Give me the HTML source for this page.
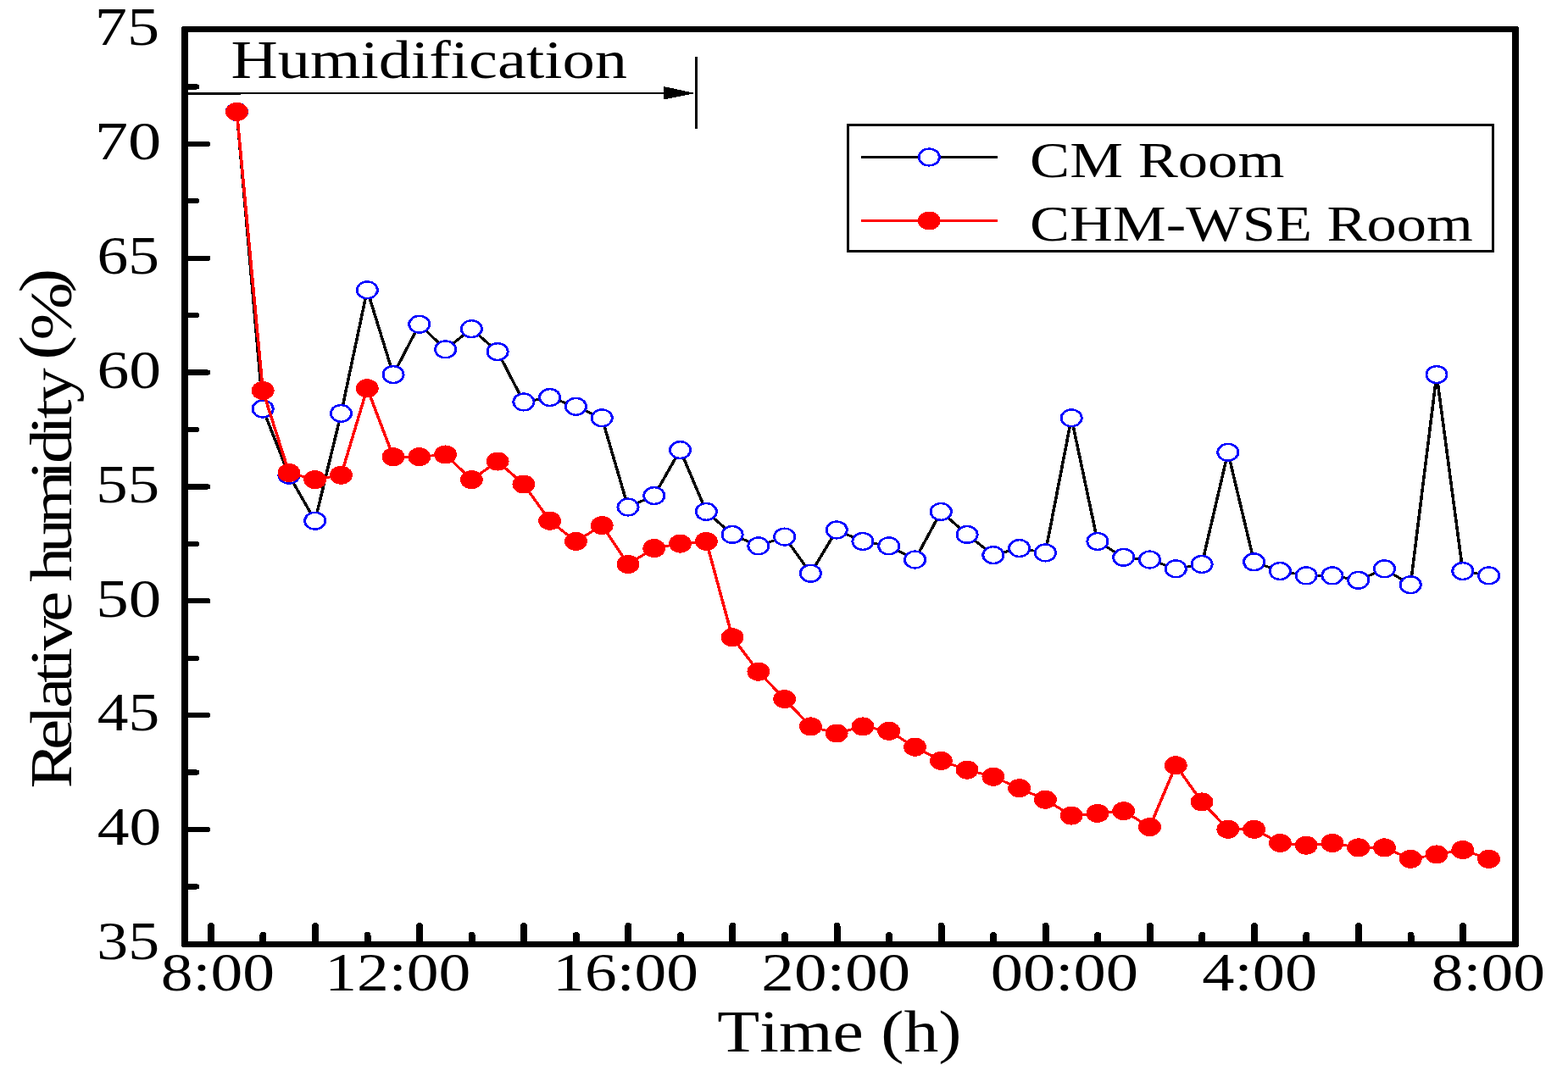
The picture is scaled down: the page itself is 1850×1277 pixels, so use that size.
<!DOCTYPE html>
<html lang="en"><head><meta charset="utf-8"><title>Relative humidity</title>
<style>html,body{margin:0;padding:0;background:#fff}body{width:1850px;height:1277px;overflow:hidden}svg{display:block}text{font-family:"Liberation Serif","DejaVu Serif",serif;fill:#000;font-kerning:none;font-variant-ligatures:none;white-space:pre}</style>
</head><body>
<svg width="1850" height="1277" viewBox="0 0 1850 1277">
<rect width="1850" height="1277" fill="#fff"/>
<g shape-rendering="crispEdges">
<path fill="#000" fill-rule="evenodd" d="M217,31 H1789 Q1792,31 1792,34 V1115 Q1792,1118 1789,1118 H217 Q214,1118 214,1115 V34 Q214,31 217,31 Z M222,38 V1111 H1784 V38 Z"/>
<g stroke="#000" stroke-width="6.2" stroke-linecap="round" fill="none">
<path d="M220,102.45 H232.10"/>
<path d="M220,169.88 H245.20"/>
<path d="M220,237.30 H232.10"/>
<path d="M220,304.73 H245.20"/>
<path d="M220,372.15 H232.10"/>
<path d="M220,439.58 H245.20"/>
<path d="M220,507.00 H232.10"/>
<path d="M220,574.43 H245.20"/>
<path d="M220,641.86 H232.10"/>
<path d="M220,709.28 H245.20"/>
<path d="M220,776.71 H232.10"/>
<path d="M220,844.13 H245.20"/>
<path d="M220,911.56 H232.10"/>
<path d="M220,978.98 H245.20"/>
<path d="M220,1046.40 H232.10"/>
</g>
<g stroke="#000" stroke-width="8" stroke-linecap="round" fill="none">
<path d="M248.90,1113 V1093.00"/>
<path d="M310.45,1113 V1104.00"/>
<path d="M372.00,1113 V1093.00"/>
<path d="M433.55,1113 V1104.00"/>
<path d="M495.10,1113 V1093.00"/>
<path d="M556.65,1113 V1104.00"/>
<path d="M618.20,1113 V1093.00"/>
<path d="M679.75,1113 V1104.00"/>
<path d="M741.30,1113 V1093.00"/>
<path d="M802.85,1113 V1104.00"/>
<path d="M864.40,1113 V1093.00"/>
<path d="M925.95,1113 V1104.00"/>
<path d="M987.50,1113 V1093.00"/>
<path d="M1049.05,1113 V1104.00"/>
<path d="M1110.60,1113 V1093.00"/>
<path d="M1172.15,1113 V1104.00"/>
<path d="M1233.70,1113 V1093.00"/>
<path d="M1295.25,1113 V1104.00"/>
<path d="M1356.80,1113 V1093.00"/>
<path d="M1418.35,1113 V1104.00"/>
<path d="M1479.90,1113 V1093.00"/>
<path d="M1541.45,1113 V1104.00"/>
<path d="M1603.00,1113 V1093.00"/>
<path d="M1664.55,1113 V1104.00"/>
<path d="M1726.10,1113 V1093.00"/>
</g>
<rect x="222" y="108.6" width="565" height="2.6" fill="#000"/>
<rect x="222" y="109.4" width="62" height="2.6" fill="#000"/>
<path d="M783,102 L820,110 L783,117.6 Z" fill="#000"/>
<rect x="820" y="67.4" width="3" height="84.2" fill="#000"/>
<g transform="scale(1.22,1)">
<polyline points="229.00,131.92 254.22,482.53 279.45,560.75 304.67,614.69 329.90,487.93 355.12,342.29 380.35,442.08 405.57,382.74 430.80,412.41 456.02,388.14 481.25,415.11 506.48,474.44 531.70,469.05 556.93,479.83 582.15,493.32 607.38,598.50 632.60,585.02 657.83,531.08 683.05,603.90 708.28,630.87 733.50,644.35 758.73,633.56 783.95,676.72 809.18,625.47 834.41,638.96 859.63,644.35 884.86,660.53 910.08,603.90 935.31,630.87 960.53,655.14 985.76,647.05 1010.98,652.44 1036.21,493.32 1061.43,638.96 1086.66,657.84 1111.89,660.53 1137.11,671.32 1162.34,665.93 1187.56,533.77 1212.79,663.23 1238.01,674.02 1263.24,679.41 1288.46,679.41 1313.69,684.81 1338.91,671.32 1364.14,690.20 1389.36,442.08 1414.59,674.02 1439.82,679.41" fill="none" stroke="#000" stroke-width="2.9" stroke-linejoin="round"/>
<g fill="#fff" stroke="#00f" stroke-width="2.4">
<circle cx="229.00" cy="131.92" r="9.9"/>
<circle cx="254.22" cy="482.53" r="9.9"/>
<circle cx="279.45" cy="560.75" r="9.9"/>
<circle cx="304.67" cy="614.69" r="9.9"/>
<circle cx="329.90" cy="487.93" r="9.9"/>
<circle cx="355.12" cy="342.29" r="9.9"/>
<circle cx="380.35" cy="442.08" r="9.9"/>
<circle cx="405.57" cy="382.74" r="9.9"/>
<circle cx="430.80" cy="412.41" r="9.9"/>
<circle cx="456.02" cy="388.14" r="9.9"/>
<circle cx="481.25" cy="415.11" r="9.9"/>
<circle cx="506.48" cy="474.44" r="9.9"/>
<circle cx="531.70" cy="469.05" r="9.9"/>
<circle cx="556.93" cy="479.83" r="9.9"/>
<circle cx="582.15" cy="493.32" r="9.9"/>
<circle cx="607.38" cy="598.50" r="9.9"/>
<circle cx="632.60" cy="585.02" r="9.9"/>
<circle cx="657.83" cy="531.08" r="9.9"/>
<circle cx="683.05" cy="603.90" r="9.9"/>
<circle cx="708.28" cy="630.87" r="9.9"/>
<circle cx="733.50" cy="644.35" r="9.9"/>
<circle cx="758.73" cy="633.56" r="9.9"/>
<circle cx="783.95" cy="676.72" r="9.9"/>
<circle cx="809.18" cy="625.47" r="9.9"/>
<circle cx="834.41" cy="638.96" r="9.9"/>
<circle cx="859.63" cy="644.35" r="9.9"/>
<circle cx="884.86" cy="660.53" r="9.9"/>
<circle cx="910.08" cy="603.90" r="9.9"/>
<circle cx="935.31" cy="630.87" r="9.9"/>
<circle cx="960.53" cy="655.14" r="9.9"/>
<circle cx="985.76" cy="647.05" r="9.9"/>
<circle cx="1010.98" cy="652.44" r="9.9"/>
<circle cx="1036.21" cy="493.32" r="9.9"/>
<circle cx="1061.43" cy="638.96" r="9.9"/>
<circle cx="1086.66" cy="657.84" r="9.9"/>
<circle cx="1111.89" cy="660.53" r="9.9"/>
<circle cx="1137.11" cy="671.32" r="9.9"/>
<circle cx="1162.34" cy="665.93" r="9.9"/>
<circle cx="1187.56" cy="533.77" r="9.9"/>
<circle cx="1212.79" cy="663.23" r="9.9"/>
<circle cx="1238.01" cy="674.02" r="9.9"/>
<circle cx="1263.24" cy="679.41" r="9.9"/>
<circle cx="1288.46" cy="679.41" r="9.9"/>
<circle cx="1313.69" cy="684.81" r="9.9"/>
<circle cx="1338.91" cy="671.32" r="9.9"/>
<circle cx="1364.14" cy="690.20" r="9.9"/>
<circle cx="1389.36" cy="442.08" r="9.9"/>
<circle cx="1414.59" cy="674.02" r="9.9"/>
<circle cx="1439.82" cy="679.41" r="9.9"/>
</g>
<polyline points="229.00,131.92 254.22,460.96 279.45,558.05 304.67,566.14 329.90,560.75 355.12,458.26 380.35,539.17 405.57,539.17 430.80,536.47 456.02,566.14 481.25,544.56 506.48,571.53 531.70,614.69 556.93,638.96 582.15,620.08 607.38,665.93 632.60,647.05 657.83,641.65 683.05,638.96 708.28,752.23 733.50,792.69 758.73,825.05 783.95,857.41 809.18,865.51 834.41,857.41 859.63,862.81 884.86,881.69 910.08,897.87 935.31,908.66 960.53,916.75 985.76,930.23 1010.98,943.72 1036.21,962.60 1061.43,959.90 1086.66,957.20 1111.89,976.08 1137.11,903.26 1162.34,946.42 1187.56,978.78 1212.79,978.78 1238.01,994.96 1263.24,997.66 1288.46,994.96 1313.69,1000.36 1338.91,1000.36 1364.14,1013.84 1389.36,1008.45 1414.59,1003.05 1439.82,1013.84" fill="none" stroke="#f00" stroke-width="2.9" stroke-linejoin="round"/>
<g fill="#f00">
<circle cx="229.00" cy="131.92" r="11.0"/>
<circle cx="254.22" cy="460.96" r="11.0"/>
<circle cx="279.45" cy="558.05" r="11.0"/>
<circle cx="304.67" cy="566.14" r="11.0"/>
<circle cx="329.90" cy="560.75" r="11.0"/>
<circle cx="355.12" cy="458.26" r="11.0"/>
<circle cx="380.35" cy="539.17" r="11.0"/>
<circle cx="405.57" cy="539.17" r="11.0"/>
<circle cx="430.80" cy="536.47" r="11.0"/>
<circle cx="456.02" cy="566.14" r="11.0"/>
<circle cx="481.25" cy="544.56" r="11.0"/>
<circle cx="506.48" cy="571.53" r="11.0"/>
<circle cx="531.70" cy="614.69" r="11.0"/>
<circle cx="556.93" cy="638.96" r="11.0"/>
<circle cx="582.15" cy="620.08" r="11.0"/>
<circle cx="607.38" cy="665.93" r="11.0"/>
<circle cx="632.60" cy="647.05" r="11.0"/>
<circle cx="657.83" cy="641.65" r="11.0"/>
<circle cx="683.05" cy="638.96" r="11.0"/>
<circle cx="708.28" cy="752.23" r="11.0"/>
<circle cx="733.50" cy="792.69" r="11.0"/>
<circle cx="758.73" cy="825.05" r="11.0"/>
<circle cx="783.95" cy="857.41" r="11.0"/>
<circle cx="809.18" cy="865.51" r="11.0"/>
<circle cx="834.41" cy="857.41" r="11.0"/>
<circle cx="859.63" cy="862.81" r="11.0"/>
<circle cx="884.86" cy="881.69" r="11.0"/>
<circle cx="910.08" cy="897.87" r="11.0"/>
<circle cx="935.31" cy="908.66" r="11.0"/>
<circle cx="960.53" cy="916.75" r="11.0"/>
<circle cx="985.76" cy="930.23" r="11.0"/>
<circle cx="1010.98" cy="943.72" r="11.0"/>
<circle cx="1036.21" cy="962.60" r="11.0"/>
<circle cx="1061.43" cy="959.90" r="11.0"/>
<circle cx="1086.66" cy="957.20" r="11.0"/>
<circle cx="1111.89" cy="976.08" r="11.0"/>
<circle cx="1137.11" cy="903.26" r="11.0"/>
<circle cx="1162.34" cy="946.42" r="11.0"/>
<circle cx="1187.56" cy="978.78" r="11.0"/>
<circle cx="1212.79" cy="978.78" r="11.0"/>
<circle cx="1238.01" cy="994.96" r="11.0"/>
<circle cx="1263.24" cy="997.66" r="11.0"/>
<circle cx="1288.46" cy="994.96" r="11.0"/>
<circle cx="1313.69" cy="1000.36" r="11.0"/>
<circle cx="1338.91" cy="1000.36" r="11.0"/>
<circle cx="1364.14" cy="1013.84" r="11.0"/>
<circle cx="1389.36" cy="1008.45" r="11.0"/>
<circle cx="1414.59" cy="1003.05" r="11.0"/>
<circle cx="1439.82" cy="1013.84" r="11.0"/>
</g>
</g>
<rect x="1000.5" y="147.75" width="761" height="148.75" fill="#fff" stroke="#000" stroke-width="3"/>
<g transform="scale(1.22,1)">
<path d="M834.26,185.5 H963.28" stroke="#000" stroke-width="3" stroke-linecap="round"/>
<circle cx="898.57" cy="185.5" r="9.9" fill="#fff" stroke="#00f" stroke-width="2.4"/>
<path d="M834.26,260.5 H963.28" stroke="#f00" stroke-width="3" stroke-linecap="round"/>
<circle cx="898.57" cy="260.5" r="11.0" fill="#f00"/>
</g>
</g>
<g>
<text transform="translate(111.83,53.33) scale(1.1941,1)" font-size="64.00">75</text>
<text transform="translate(111.69,188.18) scale(1.2291,1)" font-size="64.00">70</text>
<text transform="translate(114.59,323.03) scale(1.1492,1)" font-size="64.00">65</text>
<text transform="translate(114.49,457.88) scale(1.1834,1)" font-size="64.00">60</text>
<text transform="translate(113.31,592.73) scale(1.1701,1)" font-size="64.00">55</text>
<text transform="translate(113.17,727.58) scale(1.2049,1)" font-size="64.00">50</text>
<text transform="translate(114.73,862.43) scale(1.1469,1)" font-size="64.00">45</text>
<text transform="translate(114.69,997.28) scale(1.1802,1)" font-size="64.00">40</text>
<text transform="translate(114.31,1132.13) scale(1.1538,1)" font-size="64.00">35</text>
<text transform="translate(189.78,1168.50) scale(1.1811,1)" font-size="64.00">8:00</text>
<text transform="translate(383.20,1168.50) scale(1.1810,1)" font-size="64.00">12:00</text>
<text transform="translate(652.21,1168.50) scale(1.1788,1)" font-size="64.00">16:00</text>
<text transform="translate(898.33,1168.50) scale(1.2059,1)" font-size="64.00">20:00</text>
<text transform="translate(1168.74,1168.50) scale(1.1960,1)" font-size="64.00">00:00</text>
<text transform="translate(1418.27,1168.50) scale(1.1937,1)" font-size="64.00">4:00</text>
<text transform="translate(1688.78,1168.50) scale(1.1801,1)" font-size="64.00">8:00</text>
<text transform="translate(846.37,1240.80) scale(1.1811,1)" font-size="69.20">Time (h)</text>
<text transform="translate(272.50,92.00) scale(1.1940,1)" font-size="64.10">Humidification</text>
<text transform="translate(1215.07,208.70) scale(1.1813,1)" font-size="59.80">CM Room</text>
<text transform="translate(1215.08,283.90) scale(1.1789,1)" font-size="59.80">CHM-WSE Room</text>
<text transform="translate(83.9,930.4) rotate(-90) scale(1.18,1)" font-size="69.4"><tspan x="0.00 38.44 64.01 80.03 105.60 121.61 137.62 166.44 192.01 206.42 235.23 264.05 308.87 324.88 353.70 369.71 385.72 414.53">Relative humidity </tspan><tspan x="428.44" dy="-10.2" font-size="73.5">(</tspan><tspan x="448.13" dy="10.2">%</tspan><tspan x="495.63" dy="-10.2" font-size="73.5">)</tspan></text>
</g>
</svg>
</body></html>
